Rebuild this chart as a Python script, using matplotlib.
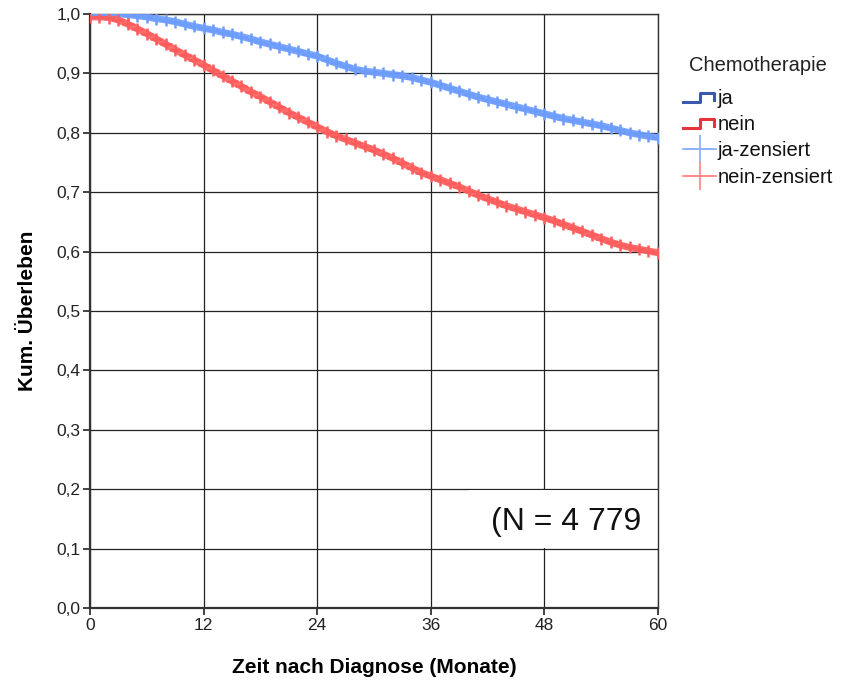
import matplotlib
matplotlib.use("Agg")
import matplotlib.pyplot as plt
from matplotlib.legend_handler import HandlerBase
from matplotlib.lines import Line2D

months = list(range(0, 61))
surv_ja = [1.0, 1.0, 1.0, 1.0, 0.999, 0.997, 0.995, 0.992, 0.99, 0.987, 0.983, 0.979, 0.976,
           0.973, 0.969, 0.966, 0.962, 0.958, 0.953, 0.949, 0.945, 0.941, 0.937, 0.933, 0.929,
           0.923, 0.917, 0.912, 0.907, 0.904, 0.902, 0.900, 0.898, 0.896, 0.893, 0.889, 0.885,
           0.880, 0.875, 0.870, 0.865, 0.860, 0.856, 0.852, 0.848, 0.844, 0.840, 0.836, 0.832,
           0.828, 0.824, 0.821, 0.818, 0.815, 0.812, 0.808, 0.804, 0.800, 0.797, 0.794, 0.792]
surv_nein = [0.995, 0.995, 0.994, 0.99, 0.983, 0.975, 0.967, 0.958, 0.949, 0.94, 0.931, 0.923, 0.914,
             0.905, 0.896, 0.887, 0.878, 0.869, 0.861, 0.852, 0.843, 0.834, 0.826, 0.818, 0.810,
             0.802, 0.795, 0.789, 0.783, 0.777, 0.771, 0.764, 0.757, 0.749, 0.741, 0.733, 0.727,
             0.721, 0.715, 0.709, 0.702, 0.695, 0.689, 0.683, 0.677, 0.672, 0.667, 0.662, 0.657,
             0.652, 0.646, 0.640, 0.634, 0.628, 0.622, 0.616, 0.611, 0.607, 0.604, 0.601, 0.598]
x_ticks = [0, 12, 24, 36, 48, 60]
y_ticks = [0.0, 0.1, 0.2, 0.3, 0.4, 0.5, 0.6, 0.7, 0.8, 0.9, 1.0]
y_ticklabels = ["0,0", "0,1", "0,2", "0,3", "0,4", "0,5", "0,6", "0,7", "0,8", "0,9", "1,0"]
legend_title = "Chemotherapie"
legend_labels = ["ja", "nein", "ja-zensiert", "nein-zensiert"]
n_text = "(N = 4 779"

plt.rcParams['font.family'] = ['Liberation Sans', 'DejaVu Sans']

c_ja_band = "#6d9cff"
c_nein_band = "#ff5c5c"
c_ja_line = "#3a58b0"
c_nein_line = "#e8323c"

fig = plt.figure(figsize=(8.48, 6.82), dpi=100)
ax = fig.add_axes([0.1061, 0.1085, 0.6698, 0.871])

ax.set_xlim(0, 60)
ax.set_ylim(0, 1.0)

for s, c in [(surv_ja, c_ja_band), (surv_nein, c_nein_band)]:
    ax.plot(months, s, color=c, lw=5, alpha=0.9, zorder=3, solid_capstyle='butt')
    ax.plot(months, s, ls='none', marker='+', ms=9, mew=1.8, color=c, zorder=4)

ax.set_xticks(x_ticks)
ax.set_yticks(y_ticks)
ax.set_yticklabels(y_ticklabels)
ax.tick_params(direction='out', length=5, width=1.2, color='#222222', pad=2,
               labelcolor='#222222', labelsize=12.5)
ax.grid(True, color='#222222', lw=0.9, zorder=1)
ax.set_axisbelow(True)
for sp in ax.spines.values():
    sp.set_color('#333333')
    sp.set_linewidth(1.0)
ax.spines['left'].set_linewidth(1.6)
ax.spines['bottom'].set_linewidth(1.6)

ax.set_xlabel("Zeit nach Diagnose (Monate)", fontsize=15, fontweight='bold', labelpad=18)
ax.set_ylabel("Kum. Überleben", fontsize=15, fontweight='bold', labelpad=14)

# N box
ax.add_patch(plt.Rectangle((40.0, 0.1015), 20.0, 0.097, facecolor='white', edgecolor='none', zorder=2))
ax.text(42.4, 0.145, n_text, fontsize=23, va='center', ha='left', color='#111111', zorder=5)


class StepHandler(HandlerBase):
    def create_artists(self, legend, orig_handle, xdescent, ydescent, width, height, fontsize, trans):
        x0 = -xdescent
        y0 = -ydescent
        xs = [x0, x0 + width * 0.5, x0 + width * 0.5, x0 + width * 0.95, x0 + width * 0.95]
        ys = [y0 + height * 0.15, y0 + height * 0.15, y0 + height * 0.75, y0 + height * 0.75, y0 + height * 0.3]
        ln = Line2D(xs, ys, color=orig_handle.get_color(), lw=2.2, transform=trans)
        return [ln]


h_ja = Line2D([], [], color=c_ja_line)
h_nein = Line2D([], [], color=c_nein_line)
h_jac = Line2D([], [], color="#8fb3ff", marker='+', ms=20, mew=1.3, lw=1.3)
h_neinc = Line2D([], [], color="#ff8a8a", marker='+', ms=20, mew=1.3, lw=1.3)

leg = fig.legend([h_ja, h_nein, h_jac, h_neinc], legend_labels, title=legend_title,
                 loc='upper left', bbox_to_anchor=(0.806, 0.918), frameon=False,
                 handler_map={h_ja: StepHandler(), h_nein: StepHandler()},
                 fontsize=14.5, title_fontsize=14.5, handlelength=1.6, handletextpad=0.1,
                 labelspacing=0.36, borderaxespad=0, borderpad=0)
leg.get_title().set_color('#222222')
leg._legend_box.sep = 10
for t in leg.get_texts():
    t.set_color('#111111')

fig.savefig("out.png", dpi=100)
